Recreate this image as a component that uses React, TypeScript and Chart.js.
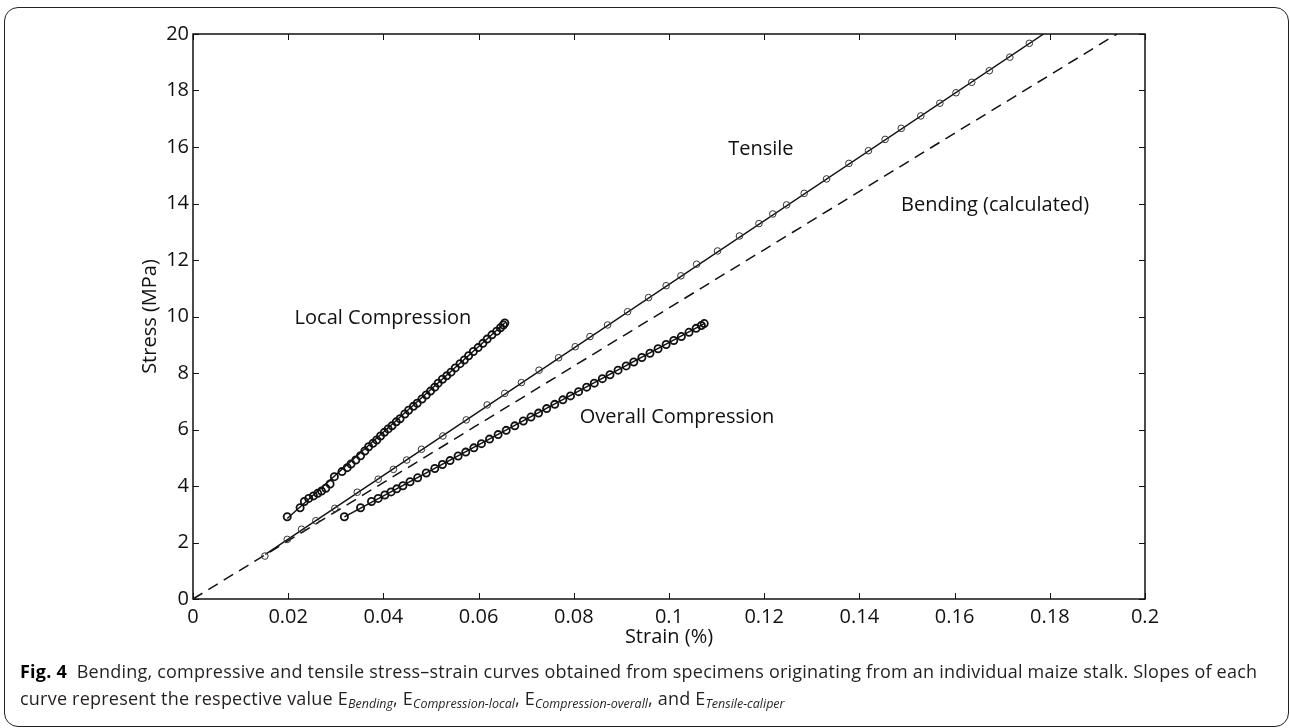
import React, { useEffect, useRef } from "react";
import { Chart, registerables } from "chart.js";

Chart.register(...registerables);

// ---- axis ticks ----
const xTickValues = [0, 0.02, 0.04, 0.06, 0.08, 0.1, 0.12, 0.14, 0.16, 0.18, 0.2];
const xTickLabels = ["0", "0.02", "0.04", "0.06", "0.08", "0.1", "0.12", "0.14", "0.16", "0.18", "0.2"];
const yTickValues = [0, 2, 4, 6, 8, 10, 12, 14, 16, 18, 20];
const yTickLabels = ["0", "2", "4", "6", "8", "10", "12", "14", "16", "18", "20"];

// ---- Tensile (measured points) ----
const tensileStrain = [0.0151, 0.0198, 0.0228, 0.0258, 0.0298, 0.0345, 0.0389, 0.0421, 0.0449, 0.048, 0.0525, 0.0574, 0.0618, 0.0655, 0.069, 0.0727, 0.0768, 0.0803, 0.0834, 0.0871, 0.0913, 0.0957, 0.0994, 0.1025, 0.1058, 0.1102, 0.1148, 0.1189, 0.1218, 0.1247, 0.1284, 0.1331, 0.1378, 0.1419, 0.1454, 0.1488, 0.1529, 0.1569, 0.1603, 0.1636, 0.1673, 0.1716, 0.1757];
const tensileStress = [1.52, 2.11, 2.47, 2.77, 3.21, 3.78, 4.24, 4.59, 4.92, 5.3, 5.77, 6.34, 6.87, 7.28, 7.66, 8.1, 8.54, 8.93, 9.29, 9.7, 10.17, 10.67, 11.09, 11.44, 11.85, 12.32, 12.85, 13.29, 13.63, 13.95, 14.36, 14.87, 15.42, 15.87, 16.27, 16.66, 17.1, 17.55, 17.92, 18.29, 18.7, 19.18, 19.67];
const tensileFitStrain = [0.0152, 0.1787];
const tensileFitStress = [1.58, 20];

// ---- Local compression ----
const localStrain = [0.0198, 0.0225, 0.0234, 0.0243, 0.0253, 0.0262, 0.027, 0.0279, 0.0288, 0.0297, 0.0313, 0.0324, 0.0332, 0.0342, 0.0352, 0.0361, 0.0369, 0.0378, 0.0386, 0.0394, 0.0402, 0.041, 0.0418, 0.0427, 0.0435, 0.0445, 0.0453, 0.0463, 0.0471, 0.0481, 0.049, 0.0499, 0.0508, 0.0515, 0.0524, 0.0533, 0.0542, 0.0551, 0.0561, 0.057, 0.0579, 0.0589, 0.0599, 0.0609, 0.0618, 0.0628, 0.0638, 0.0646, 0.0652, 0.0655];
const localStress = [2.91, 3.23, 3.45, 3.56, 3.65, 3.74, 3.82, 3.92, 4.07, 4.33, 4.51, 4.65, 4.78, 4.92, 5.07, 5.24, 5.39, 5.51, 5.63, 5.77, 5.9, 6.02, 6.13, 6.27, 6.38, 6.55, 6.68, 6.82, 6.93, 7.08, 7.22, 7.36, 7.5, 7.64, 7.78, 7.9, 8.03, 8.18, 8.33, 8.46, 8.61, 8.76, 8.9, 9.05, 9.2, 9.35, 9.48, 9.6, 9.7, 9.77];
const localFitStrain = [0.0198, 0.0655];
const localFitStress = [2.85, 9.77];

// ---- Overall compression ----
const overallStrain = [0.0318, 0.0352, 0.0375, 0.0389, 0.0403, 0.0416, 0.0428, 0.0441, 0.0456, 0.0472, 0.049, 0.0508, 0.0524, 0.054, 0.0557, 0.0573, 0.059, 0.0606, 0.0623, 0.0641, 0.0658, 0.0676, 0.0694, 0.071, 0.0726, 0.0743, 0.076, 0.0777, 0.0793, 0.081, 0.0827, 0.0843, 0.086, 0.0876, 0.0893, 0.091, 0.0926, 0.0943, 0.096, 0.0977, 0.0994, 0.101, 0.1026, 0.1042, 0.1057, 0.1068, 0.1074];
const overallStress = [2.91, 3.23, 3.45, 3.56, 3.68, 3.79, 3.9, 4.01, 4.15, 4.29, 4.46, 4.62, 4.76, 4.9, 5.06, 5.2, 5.35, 5.5, 5.66, 5.82, 5.97, 6.13, 6.3, 6.44, 6.58, 6.74, 6.89, 7.05, 7.19, 7.34, 7.5, 7.64, 7.8, 7.94, 8.1, 8.25, 8.39, 8.55, 8.7, 8.86, 9.01, 9.15, 9.29, 9.44, 9.58, 9.68, 9.75];
const overallFitStrain = [0.0318, 0.1074];
const overallFitStress = [2.91, 9.75];

// ---- Bending (calculated) ----
const bendingStrain = [0, 0.1941];
const bendingStress = [0, 20];

// ---- curve labels ----
const labelTexts = ["Tensile", "Bending (calculated)", "Local Compression", "Overall Compression"];
const labelStrain = [0.1193, 0.1685, 0.0399, 0.1017];
const labelStress = [15.93, 13.95, 9.95, 6.44];

const pts = (xs: number[], ys: number[]) => xs.map((x, i) => ({ x, y: ys[i] }));

const FONT = "'Open Sans', 'Noto Sans', sans-serif";

const framePlugin = {
  id: "frame",
  afterDraw(chart: any) {
    const { ctx, chartArea, scales } = chart;
    const { left, right, top, bottom } = chartArea;
    ctx.save();
    ctx.strokeStyle = "#111";
    ctx.lineWidth = 1.5;
    ctx.strokeRect(left, top, right - left, bottom - top);
    ctx.lineWidth = 1;
    const tl = 6;
    xTickValues.forEach((v) => {
      const px = Math.round(scales.x.getPixelForValue(v)) + 0.5;
      ctx.beginPath();
      ctx.moveTo(px, bottom);
      ctx.lineTo(px, bottom - tl);
      ctx.moveTo(px, top);
      ctx.lineTo(px, top + tl);
      ctx.stroke();
    });
    yTickValues.forEach((v) => {
      const py = Math.round(scales.y.getPixelForValue(v)) + 0.5;
      ctx.beginPath();
      ctx.moveTo(left, py);
      ctx.lineTo(left + tl, py);
      ctx.moveTo(right, py);
      ctx.lineTo(right - tl, py);
      ctx.stroke();
    });
    // curve labels
    ctx.fillStyle = "#111";
    ctx.font = `20px ${FONT}`;
    ctx.textAlign = "center";
    ctx.textBaseline = "middle";
    labelTexts.forEach((t, i) => {
      ctx.fillText(t, scales.x.getPixelForValue(labelStrain[i]), scales.y.getPixelForValue(labelStress[i]));
    });
    // axis titles
    ctx.fillText("Strain (%)", (left + right) / 2, 637);
    ctx.save();
    ctx.translate(150, (top + bottom) / 2);
    ctx.rotate(-Math.PI / 2);
    ctx.fillText("Stress (MPa)", 0, 0);
    ctx.restore();
    ctx.restore();
  },
};

export default function App() {
  const ref = useRef<HTMLCanvasElement>(null);
  useEffect(() => {
    document.body.style.margin = "0";
    const canvas = ref.current!;
    const lineDs = (label: string, xs: number[], ys: number[], dash: number[] = []) => ({
      type: "line" as const,
      label,
      data: pts(xs, ys),
      borderColor: "#111",
      borderWidth: 1.5,
      borderDash: dash,
      pointRadius: 0,
      fill: false,
      tension: 0,
      showLine: true,
    });
    const markerDs = (label: string, xs: number[], ys: number[], r: number, bw: number, color: string) => ({
      type: "scatter" as const,
      label,
      data: pts(xs, ys),
      borderColor: color,
      backgroundColor: "rgba(255,255,255,0)",
      pointRadius: r,
      pointBorderWidth: bw,
      pointStyle: "circle",
      showLine: false,
    });
    const chart = new Chart(canvas, {
      type: "scatter",
      data: {
        datasets: [
          markerDs("Tensile points", tensileStrain, tensileStress, 3.3, 1, "#333"),
          markerDs("Local points", localStrain, localStress, 3.6, 1.8, "#111"),
          markerDs("Overall points", overallStrain, overallStress, 3.6, 1.8, "#111"),
          lineDs("Tensile", tensileFitStrain, tensileFitStress),
          lineDs("Local Compression", localFitStrain, localFitStress),
          lineDs("Overall Compression", overallFitStrain, overallFitStress),
          lineDs("Bending (calculated)", bendingStrain, bendingStress, [11, 7]),
        ] as any,
      },
      options: {
        responsive: false,
        animation: false,
        layout: { padding: { top: 34, right: 145, left: 0, bottom: 0 } },
        plugins: { legend: { display: false }, tooltip: { enabled: false } },
        scales: {
          x: {
            type: "linear",
            min: 0,
            max: 0.2,
            grid: { display: false, drawTicks: false, tickLength: 0 },
            border: { display: false },
            afterBuildTicks: (s: any) => {
              s.ticks = xTickValues.map((v) => ({ value: v }));
            },
            afterFit: (s: any) => {
              s.height = 61;
            },
            ticks: {
              padding: 6,
              color: "#111",
              font: { family: FONT, size: 20 },
              maxRotation: 0,
              autoSkip: false,
              callback: (_v: any, i: number) => xTickLabels[i],
            },
          },
          y: {
            type: "linear",
            min: 0,
            max: 20,
            grid: { display: false, drawTicks: false, tickLength: 0 },
            border: { display: false },
            afterBuildTicks: (s: any) => {
              s.ticks = yTickValues.map((v) => ({ value: v }));
            },
            afterFit: (s: any) => {
              s.width = 193;
            },
            ticks: {
              padding: 4,
              color: "#111",
              font: { family: FONT, size: 20 },
              autoSkip: false,
              callback: (_v: any, i: number) => yTickLabels[i],
            },
          },
        },
      } as any,
      plugins: [framePlugin],
    });
    return () => chart.destroy();
  }, []);

  const sub: React.CSSProperties = { fontStyle: "italic", fontSize: "12.5px", verticalAlign: "-3px", letterSpacing: 0 };
  return (
    <div style={{ position: "relative", width: 1290, height: 728, background: "#fff", overflow: "hidden" }}>
      <div
        style={{
          position: "absolute",
          left: 4,
          top: 7,
          width: 1283,
          height: 718,
          border: "1.5px solid #222",
          borderRadius: 14,
        }}
      />
      <canvas ref={ref} width={1290} height={660} style={{ position: "absolute", left: 0, top: 0, width: 1290, height: 660 }} />
      <div
        style={{
          position: "absolute",
          left: 20,
          top: 658,
          fontFamily: FONT,
          fontSize: 18,
          letterSpacing: "0.22px",
          lineHeight: "27px",
          color: "#231f20",
          whiteSpace: "nowrap",
        }}
      >
        <b style={{ color: "#000" }}>Fig. 4</b>&nbsp;&nbsp;Bending, compressive and tensile stress–strain curves obtained from specimens originating from an individual maize stalk. Slopes of each
        <br />
        curve represent the respective value E<span style={sub}>Bending</span>, E<span style={sub}>Compression-local</span>, E
        <span style={sub}>Compression-overall</span>, and E<span style={sub}>Tensile-caliper</span>
      </div>
    </div>
  );
}
